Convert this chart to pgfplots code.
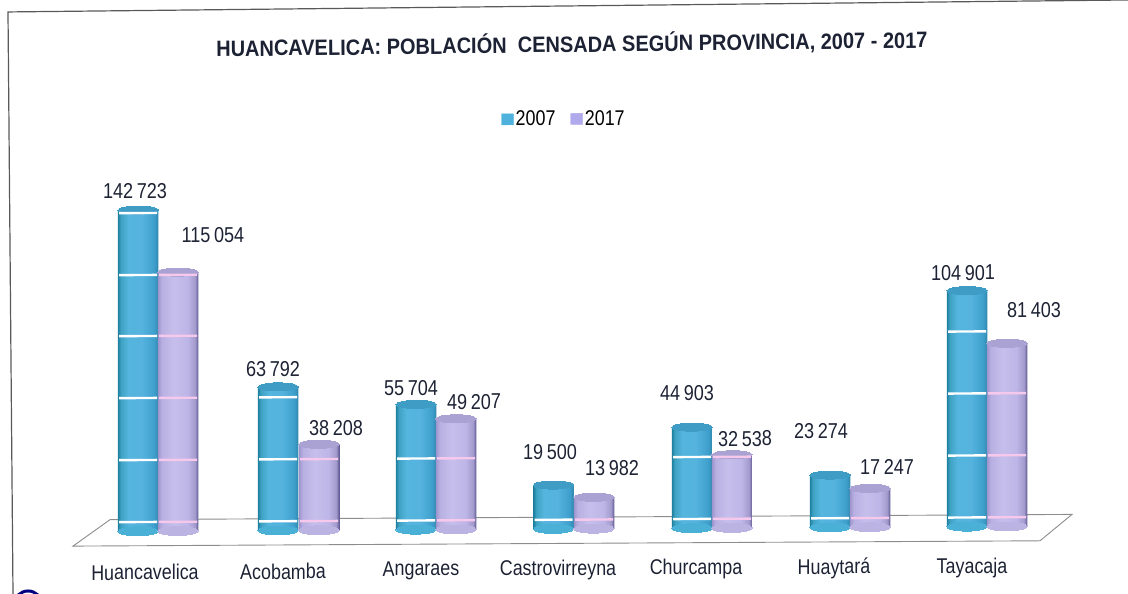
\documentclass[border=0pt]{standalone}
\usepackage{fontspec}
\setmainfont[FakeStretch=0.84]{Liberation Sans}
\newfontfamily\titlefont[FakeStretch=0.9]{Liberation Sans}
\usepackage{pgfplots}
\usepackage{pgfplotstable}
\pgfplotsset{compat=1.18}
\definecolor{bl}{HTML}{4FB2DC}
\definecolor{bltop}{HTML}{3F9CC4}
\definecolor{blbot}{HTML}{4AB0D6}
\definecolor{pu}{HTML}{C4BCEA}
\definecolor{putop}{HTML}{A9A2D2}
\definecolor{pubot}{HTML}{BBB3E2}
\definecolor{pink}{HTML}{F6C9EC}
\definecolor{ink}{HTML}{1C2233}
\pgfdeclarehorizontalshading{blcyl}{100bp}{
 color(0bp)=(rgb,255:red,29;green,127;blue,158);
 color(25bp)=(rgb,255:red,29;green,127;blue,158);
 color(29bp)=(rgb,255:red,63;green,163;blue,196);
 color(38bp)=(rgb,255:red,85;green,181;blue,222);
 color(55bp)=(rgb,255:red,85;green,179;blue,222);
 color(70bp)=(rgb,255:red,63;green,159;blue,204);
 color(75bp)=(rgb,255:red,47;green,134;blue,171);
 color(100bp)=(rgb,255:red,47;green,134;blue,171)}
\pgfdeclarehorizontalshading{pucyl}{100bp}{
 color(0bp)=(rgb,255:red,155;green,147;blue,204);
 color(25bp)=(rgb,255:red,155;green,147;blue,204);
 color(30bp)=(rgb,255:red,185;green,176;blue,226);
 color(45bp)=(rgb,255:red,198;green,191;blue,236);
 color(62bp)=(rgb,255:red,189;green,181;blue,230);
 color(71bp)=(rgb,255:red,163;green,155;blue,205);
 color(75bp)=(rgb,255:red,92;green,88;blue,144);
 color(100bp)=(rgb,255:red,92;green,88;blue,144)}
\pgfplotstableread{
x y dx dy
138 142723 -3 19
278 63792 -5 18
416 55704 -5 16
553.5 19500 -3.5 33
692 44903 -5 34
830 23274 -9 44
967 104901 -4 18
}\blue
\pgfplotstableread{
x y dx dy
178 115054 35 37
319 38208 17 16
456 49207 18 17
594 13982 18 29
732 32538 13 16
870 17247 17 21
1007 81403 27 33
}\purple
\begin{document}
\begin{tikzpicture}[x=1pt,y=1pt]
\useasboundingbox (0,0) rectangle (1128,594);
\begin{scope}[cm={1,0.0055,0,1,(0,0)}]
\begin{axis}[
  at={(0pt,39pt)}, anchor=south west,
  scale only axis, width=1128pt, height=555pt,
  xmin=0, xmax=1128, ymin=-10222, ymax=236444,
  clip=false, enlargelimits=false,
  axis line style={draw=none}, tick style={draw=none}, major tick length=0pt,
  ytick=\empty,
  xtick={145,283,421,558,696,834,972},
  xticklabels={Huancavelica,Acobamba,Angaraes,Castrovirreyna,Churcampa,Huaytará,Tayacaja},
  xticklabel style={anchor=center, yshift=-18pt, font=\fontsize{21.3}{23}\selectfont, text=ink},
  title={HUANCAVELICA: POBLACIÓN\ \ CENSADA SEGÚN PROVINCIA, 2007 - 2017},
  title style={at={(axis description cs:0.507,0.904)}, anchor=center, rotate=0.4, inner sep=0pt,
    font=\titlefont\fontsize{22.2}{24}\selectfont\bfseries, text=ink},
  legend style={at={(axis description cs:0.5,0.78)}, anchor=center, draw=none, fill=none,
    legend columns=2, font=\fontsize{21.3}{23}\selectfont, /tikz/every even column/.append style={column sep=13pt},
    inner sep=0pt},
  legend cell align=left,
  /pgf/number format/.cd, fixed, precision=0, 1000 sep={\,}, assume math mode=true,
]
% legend
\addlegendimage{legend image code/.code={\fill[bl] (0pt,-5.5pt) rectangle (12pt,5.5pt);}}
\addlegendentry{2007}
\addlegendimage{legend image code/.code={\fill[pu!90!blue] (0pt,-5.5pt) rectangle (12pt,5.5pt);}}
\addlegendentry{2017}
% frame
\addplot[forget plot, draw=black!65, line width=1.2pt] coordinates {(13,-27555) (8,231111) (1128,233700)};
\addplot[forget plot, only marks, mark=o, mark size=14pt, mark options={draw=blue!50!black, line width=3pt}] coordinates {(28,-32500)};
% floor
\addplot[forget plot, draw=black!45, line width=0.9pt] coordinates {(110,5200) (73,-6450) (1040,-6450) (1072,5200) (110,5200)};
% bottoms
\addplot[forget plot, only marks, mark=*, mark size=20.2pt, mark options={xscale=1, yscale=.22, draw=blbot, fill=blbot, line width=0pt}] table[x=x, y expr=0] {\blue};
\addplot[forget plot, only marks, mark=*, mark size=20.2pt, mark options={xscale=1, yscale=.22, draw=pubot, fill=pubot, line width=0pt}] table[x=x, y expr=0] {\purple};
% bars, each shaded across its own width
\pgfplotsinvokeforeach{138,278,416,553.5,692,830,967}{
  \addplot[forget plot, ybar, bar shift=0pt, bar width=40.5, draw=none, shade, shading=blcyl, restrict x to domain=#1:#1] table[x=x, y=y] {\blue};
}
\pgfplotsinvokeforeach{178,319,456,594,732,870,1007}{
  \addplot[forget plot, ybar, bar shift=0pt, bar width=40.5, draw=none, shade, shading=pucyl, restrict x to domain=#1:#1] table[x=x, y=y] {\purple};
}
% tops
\addplot[forget plot, only marks, mark=*, mark size=20.2pt, mark options={xscale=1, yscale=.2, draw=bltop, fill=bltop, line width=0pt}] table[x=x, y=y] {\blue};
\addplot[forget plot, only marks, mark=*, mark size=20.2pt, mark options={xscale=1, yscale=.2, draw=putop, fill=putop, line width=0pt}] table[x=x, y=y] {\purple};
% bands
\addplot[forget plot, only marks, mark=-, mark size=19pt, mark options={draw=white, line width=2.4pt}] coordinates {
 (138,4090) (138,31640) (138,59200) (138,86750) (138,113870) (138,141400)
 (278,4090) (278,31640) (278,59200)
 (416,4090) (416,31640)
 (553.5,4090)
 (692,4090) (692,31640)
 (830,4090)
 (967,4090) (967,31640) (967,59200) (967,86750)};
\addplot[forget plot, only marks, mark=-, mark size=19pt, mark options={draw=pink, line width=2.4pt}] coordinates {
 (178,4090) (178,31640) (178,59200) (178,86750) (178,113870)
 (319,4090) (319,31640)
 (456,4090) (456,31640)
 (594,4090)
 (732,4090) (732,31640)
 (870,4090)
 (1007,4090) (1007,31640) (1007,59200)};
% value labels
\addplot[forget plot, draw=none, mark=none, point meta=y,
  visualization depends on={\thisrow{dx}\as\dxv},
  visualization depends on={\thisrow{dy}\as\dyv},
  nodes near coords,
  nodes near coords style={anchor=center, inner sep=0pt, xshift=\dxv pt, yshift=\dyv pt,
     font=\fontsize{21.5}{23}\selectfont, text=ink}] table[x=x, y=y] {\blue};
\addplot[forget plot, draw=none, mark=none, point meta=y,
  visualization depends on={\thisrow{dx}\as\dxv},
  visualization depends on={\thisrow{dy}\as\dyv},
  nodes near coords,
  nodes near coords style={anchor=center, inner sep=0pt, xshift=\dxv pt, yshift=\dyv pt,
     font=\fontsize{21.5}{23}\selectfont, text=ink}] table[x=x, y=y] {\purple};
\end{axis}
\end{scope}
\end{tikzpicture}
\end{document}
